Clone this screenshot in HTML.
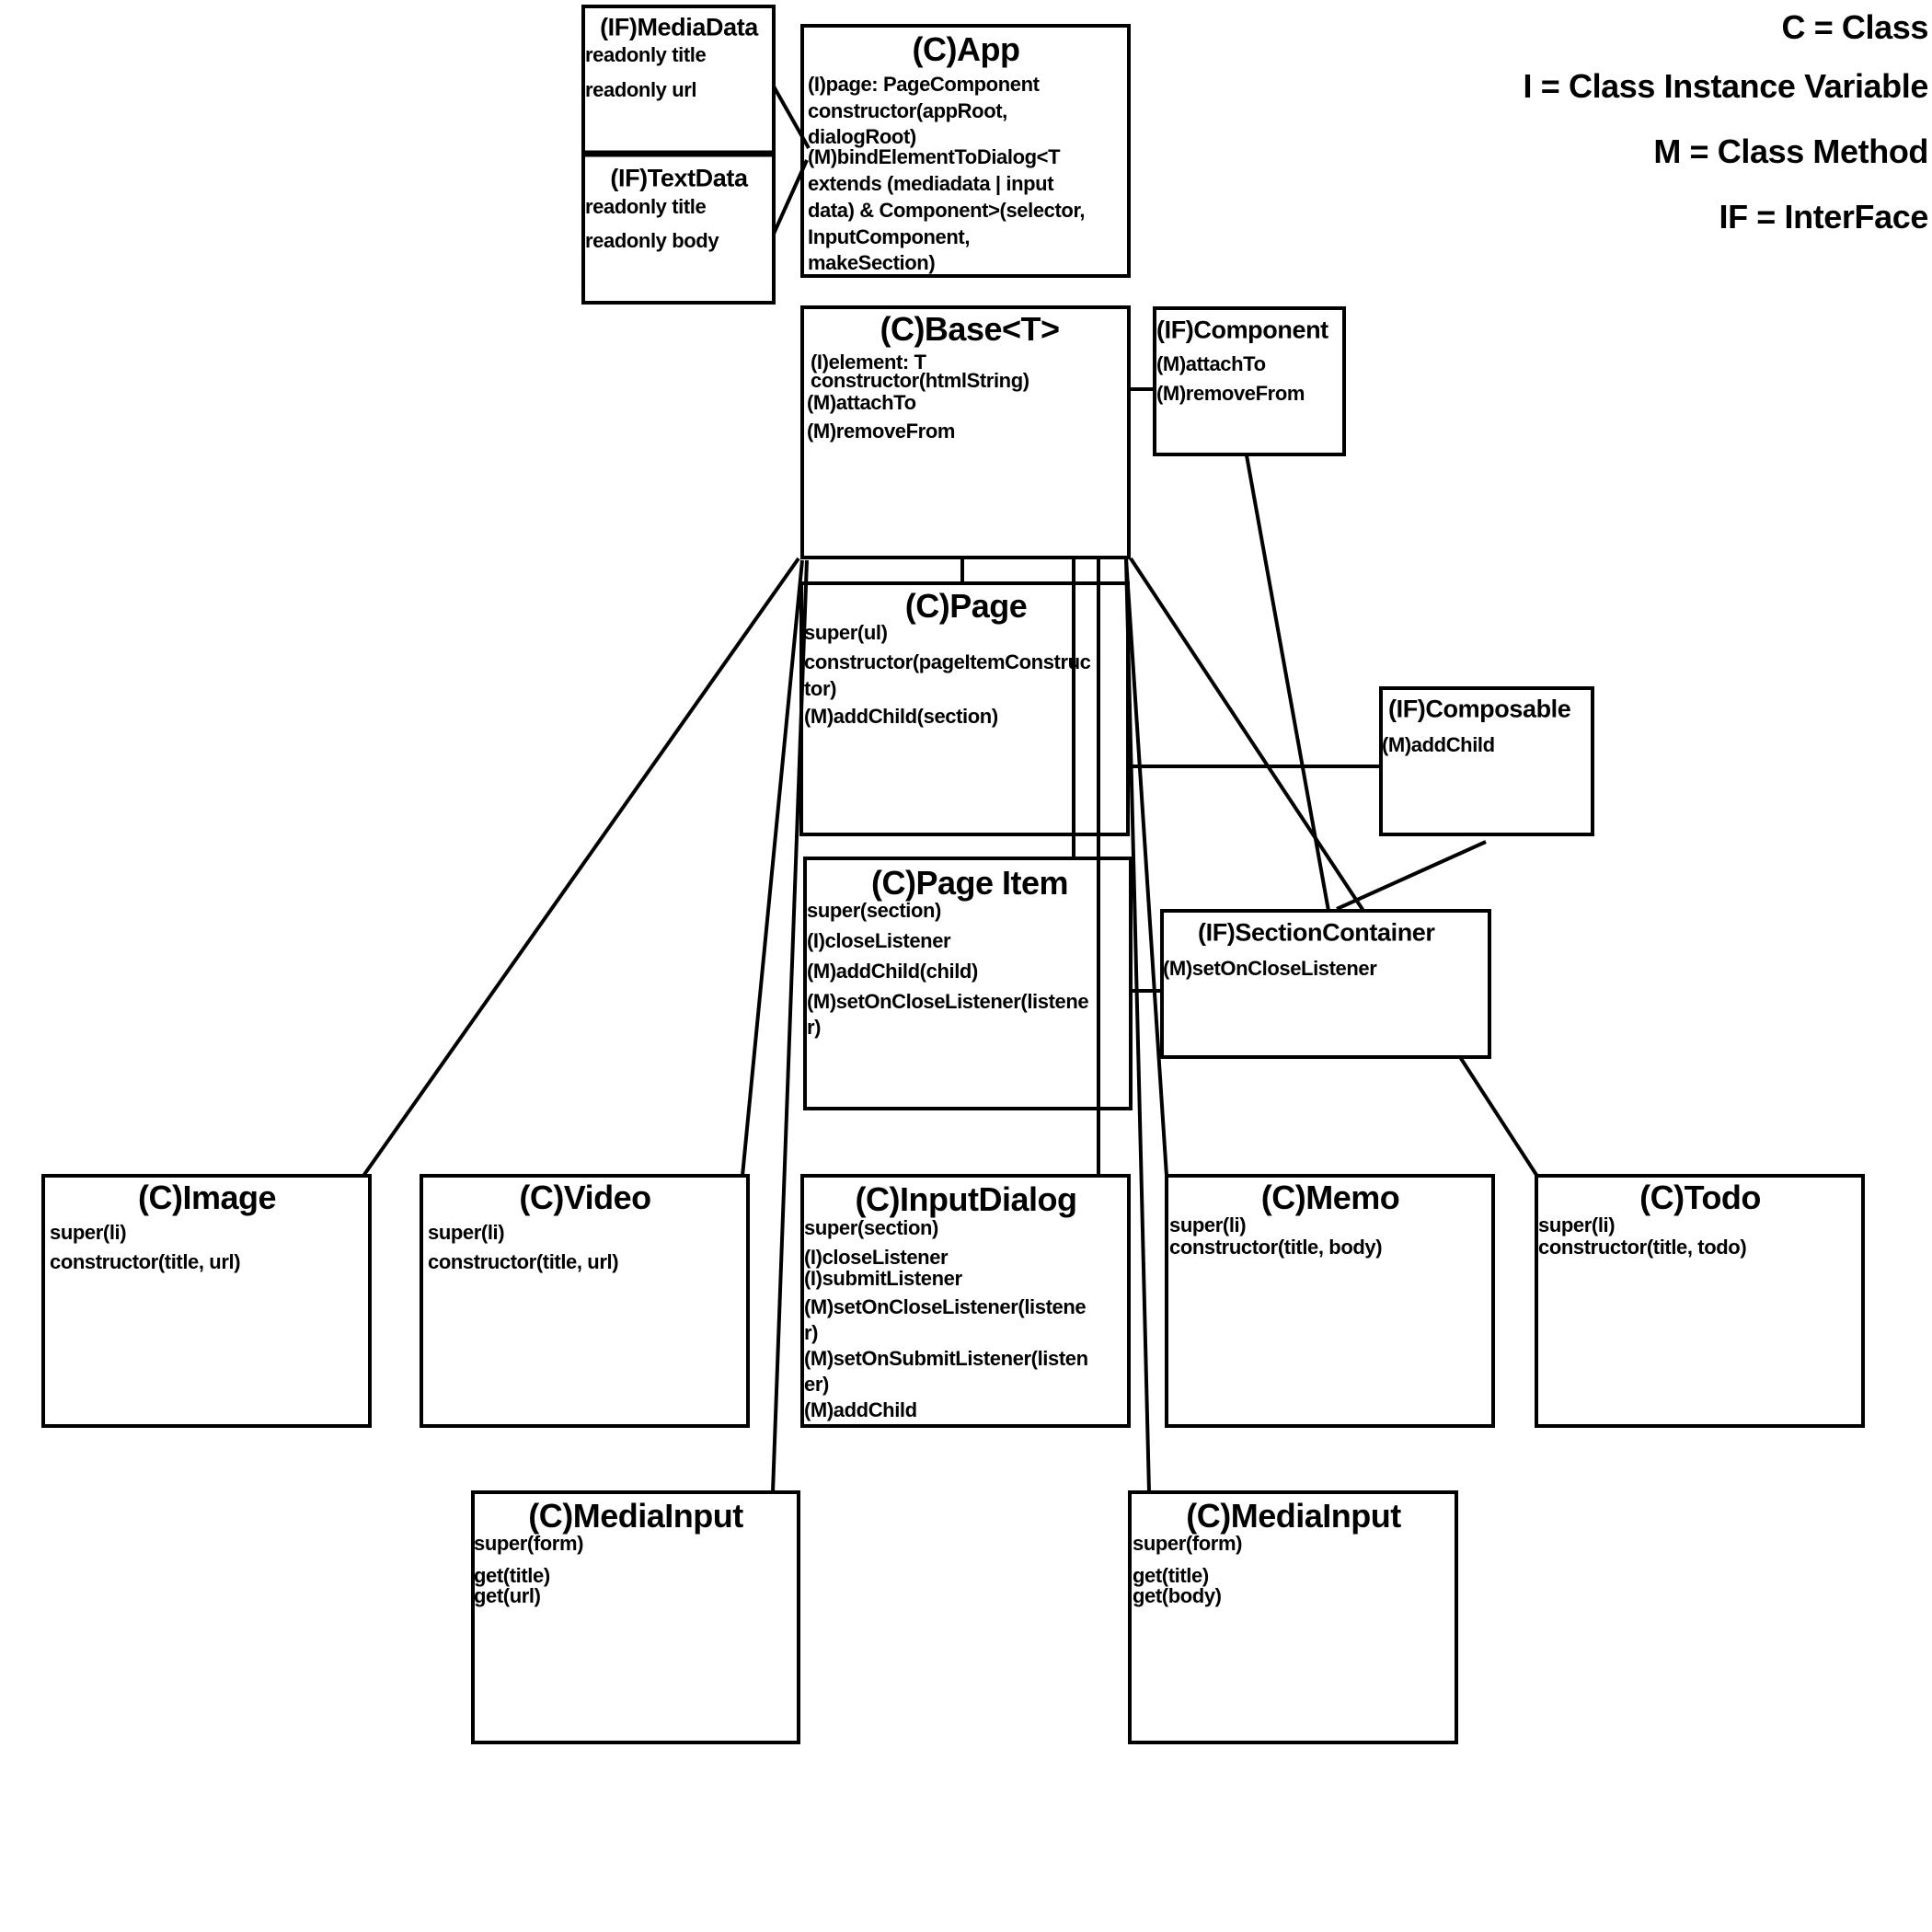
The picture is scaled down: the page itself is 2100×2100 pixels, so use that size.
<!DOCTYPE html>
<html><head><meta charset="utf-8"><style>
html,body{margin:0;padding:0;background:#fff;}
body{width:2100px;height:2100px;position:relative;overflow:hidden;font-family:"Liberation Sans",sans-serif;font-weight:bold;color:#000;}
.t{position:absolute;white-space:nowrap;font-size:22px;line-height:22px;transform:translateY(-50%);letter-spacing:-0.4px;}
.c{transform:translate(-50%,-50%);}
.h{font-size:36px;line-height:36px;letter-spacing:-0.5px;}
.m{font-size:27px;line-height:27px;}
.l{font-size:36px;line-height:36px;transform:translateY(-50%);right:4px;left:auto;}
svg{position:absolute;left:0;top:0;}
</style></head><body>
<svg width="2100" height="2100" fill="none" stroke="#000" stroke-width="4">
<rect x="634" y="7" width="207" height="322"/>
<line x1="634" y1="167" x2="841" y2="167" stroke-width="7"/>
<rect x="872" y="28" width="355" height="272"/>
<rect x="872" y="334" width="355" height="272"/>
<rect x="1255" y="335" width="206" height="159"/>
<rect x="871" y="634" width="355" height="273"/>
<rect x="875" y="933" width="354" height="272"/>
<rect x="1501" y="748" width="230" height="159"/>
<rect x="1263" y="990" width="356" height="159"/>
<rect x="47" y="1278" width="355" height="272"/>
<rect x="458" y="1278" width="355" height="272"/>
<rect x="872" y="1278" width="355" height="272"/>
<rect x="1268" y="1278" width="355" height="272"/>
<rect x="1670" y="1278" width="355" height="272"/>
<rect x="514" y="1622" width="354" height="272"/>
<rect x="1228" y="1622" width="355" height="272"/>
<line x1="841" y1="94" x2="879" y2="161"/>
<line x1="841" y1="254" x2="877" y2="174"/>
<line x1="1227" y1="423" x2="1255" y2="423"/>
<line x1="1046" y1="606" x2="1046" y2="634"/>
<line x1="1167" y1="606" x2="1167" y2="933"/>
<line x1="1194" y1="606" x2="1194" y2="1278"/>
<line x1="868" y1="607" x2="395" y2="1278"/>
<line x1="872" y1="609" x2="807" y2="1278"/>
<line x1="877" y1="609" x2="840" y2="1622"/>
<line x1="1224" y1="607" x2="1249" y2="1622"/>
<line x1="1224" y1="607" x2="1268" y2="1278"/>
<line x1="1229" y1="607" x2="1482" y2="990"/>
<line x1="1355" y1="495" x2="1444" y2="990"/>
<line x1="1453" y1="988" x2="1615" y2="915"/>
<line x1="1226" y1="833" x2="1501" y2="833"/>
<line x1="1229" y1="1077" x2="1263" y2="1077"/>
<line x1="1587" y1="1149" x2="1670" y2="1277"/>
</svg>
<div class="t c m" style="left:738px;top:30px">(IF)MediaData</div>
<div class="t" style="left:636px;top:60px">readonly title</div>
<div class="t" style="left:636px;top:98px">readonly url</div>
<div class="t c m" style="left:738px;top:194px">(IF)TextData</div>
<div class="t" style="left:636px;top:225px">readonly title</div>
<div class="t" style="left:636px;top:262px">readonly body</div>

<div class="t c h" style="left:1050px;top:54px">(C)App</div>
<div class="t" style="left:878px;top:92px">(I)page: PageComponent</div>
<div class="t" style="left:878px;top:121px">constructor(appRoot,</div>
<div class="t" style="left:878px;top:149px">dialogRoot)</div>
<div class="t" style="left:878px;top:171px">(M)bindElementToDialog&lt;T</div>
<div class="t" style="left:878px;top:200px">extends (mediadata | input</div>
<div class="t" style="left:878px;top:229px">data) &amp; Component&gt;(selector,</div>
<div class="t" style="left:878px;top:258px">InputComponent,</div>
<div class="t" style="left:878px;top:286px">makeSection)</div>

<div class="t c h" style="left:1054px;top:358px">(C)Base&lt;T&gt;</div>
<div class="t" style="left:881px;top:394px">(I)element: T</div>
<div class="t" style="left:881px;top:414px">constructor(htmlString)</div>
<div class="t" style="left:877px;top:438px">(M)attachTo</div>
<div class="t" style="left:877px;top:469px">(M)removeFrom</div>

<div class="t m" style="left:1257px;top:359px">(IF)Component</div>
<div class="t" style="left:1257px;top:396px">(M)attachTo</div>
<div class="t" style="left:1257px;top:428px">(M)removeFrom</div>

<div class="t c h" style="left:1050px;top:659px">(C)Page</div>
<div class="t" style="left:874px;top:688px">super(ul)</div>
<div class="t" style="left:874px;top:720px">constructor(pageItemConstruc</div>
<div class="t" style="left:874px;top:749px">tor)</div>
<div class="t" style="left:874px;top:779px">(M)addChild(section)</div>

<div class="t m" style="left:1509px;top:771px">(IF)Composable</div>
<div class="t" style="left:1502px;top:810px">(M)addChild</div>

<div class="t c h" style="left:1054px;top:960px">(C)Page Item</div>
<div class="t" style="left:877px;top:990px">super(section)</div>
<div class="t" style="left:877px;top:1023px">(I)closeListener</div>
<div class="t" style="left:877px;top:1056px">(M)addChild(child)</div>
<div class="t" style="left:877px;top:1089px">(M)setOnCloseListener(listene</div>
<div class="t" style="left:877px;top:1117px">r)</div>

<div class="t m" style="left:1302px;top:1014px">(IF)SectionContainer</div>
<div class="t" style="left:1264px;top:1053px">(M)setOnCloseListener</div>

<div class="t c h" style="left:225px;top:1302px">(C)Image</div>
<div class="t" style="left:54px;top:1340px">super(li)</div>
<div class="t" style="left:54px;top:1372px">constructor(title, url)</div>

<div class="t c h" style="left:636px;top:1302px">(C)Video</div>
<div class="t" style="left:465px;top:1340px">super(li)</div>
<div class="t" style="left:465px;top:1372px">constructor(title, url)</div>

<div class="t c h" style="left:1050px;top:1304px">(C)InputDialog</div>
<div class="t" style="left:874px;top:1335px">super(section)</div>
<div class="t" style="left:874px;top:1367px">(I)closeListener</div>
<div class="t" style="left:874px;top:1390px">(I)submitListener</div>
<div class="t" style="left:874px;top:1421px">(M)setOnCloseListener(listene</div>
<div class="t" style="left:874px;top:1449px">r)</div>
<div class="t" style="left:874px;top:1477px">(M)setOnSubmitListener(listen</div>
<div class="t" style="left:874px;top:1505px">er)</div>
<div class="t" style="left:874px;top:1533px">(M)addChild</div>

<div class="t c h" style="left:1446px;top:1302px">(C)Memo</div>
<div class="t" style="left:1271px;top:1332px">super(li)</div>
<div class="t" style="left:1271px;top:1356px">constructor(title, body)</div>

<div class="t c h" style="left:1848px;top:1302px">(C)Todo</div>
<div class="t" style="left:1672px;top:1332px">super(li)</div>
<div class="t" style="left:1672px;top:1356px">constructor(title, todo)</div>

<div class="t c h" style="left:691px;top:1648px">(C)MediaInput</div>
<div class="t" style="left:515px;top:1678px">super(form)</div>
<div class="t" style="left:515px;top:1713px">get(title)</div>
<div class="t" style="left:515px;top:1735px">get(url)</div>

<div class="t c h" style="left:1406px;top:1648px">(C)MediaInput</div>
<div class="t" style="left:1231px;top:1678px">super(form)</div>
<div class="t" style="left:1231px;top:1713px">get(title)</div>
<div class="t" style="left:1231px;top:1735px">get(body)</div>

<div class="t l" style="top:30px">C = Class</div>
<div class="t l" style="top:94px">I = Class Instance Variable</div>
<div class="t l" style="top:165px">M = Class Method</div>
<div class="t l" style="top:236px">IF = InterFace</div>
</body></html>
